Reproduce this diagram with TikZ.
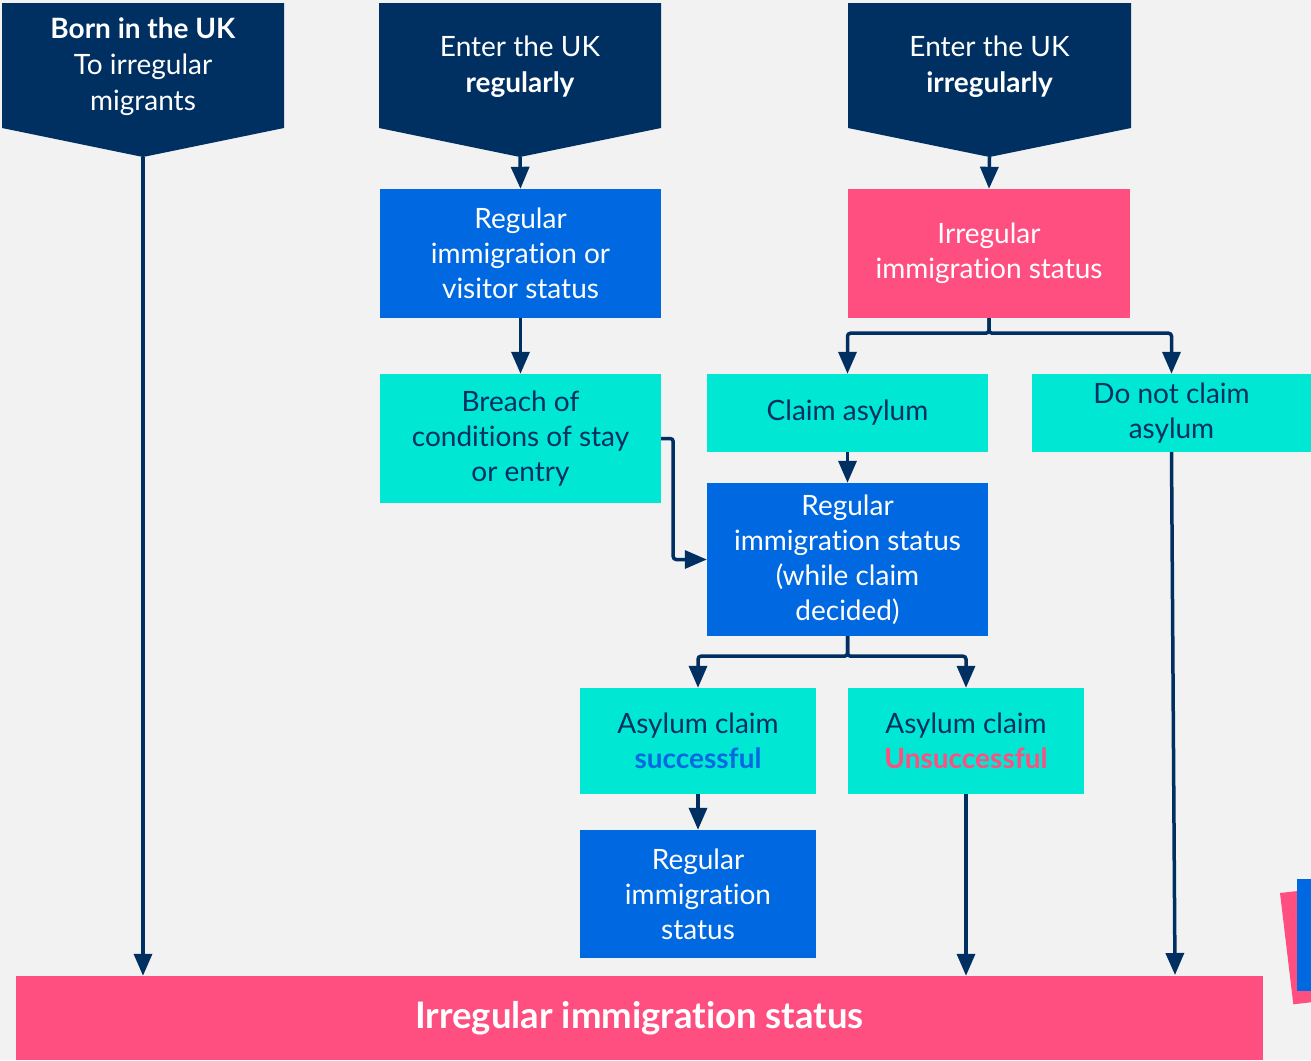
\documentclass[tikz,border=0pt]{standalone}
\usepackage{fontspec}
\setmainfont{Lato}[Ligatures={NoCommon,NoRare}]
\usetikzlibrary{arrows.meta}
\definecolor{navy}{HTML}{003062}
\definecolor{bblue}{HTML}{0068E0}
\definecolor{cteal}{HTML}{00E8D4}
\definecolor{cpink}{HTML}{FF4F80}
\definecolor{bgc}{HTML}{F2F2F2}
\begin{document}
\begin{tikzpicture}[x=1pt,y=-1pt,
  box/.style={inner sep=0pt, align=center, font=\fontsize{28}{35}\selectfont},
  bluebox/.style={box, fill=bblue, text=white},
  tealbox/.style={box, fill=cteal, text=navy},
  pinkbox/.style={box, fill=cpink, text=white},
  head/.style={inner sep=0pt, align=center, text=white, font=\fontsize{28}{36}\selectfont},
  arr/.style={draw=navy, line width=3.5pt, -{Triangle[length=22pt,width=18pt]}},
  fork/.style={arr, rounded corners=3pt}]
\fill[bgc] (0,0) rectangle (1311,1060);
\useasboundingbox (0,0) rectangle (1311,1060);

% header pentagons
\fill[navy] (2,3) -- (284,3) -- (284,128) -- (143,157) -- (2,128) -- cycle;
\fill[navy] (379,3) -- (661,3) -- (661,128) -- (520,157) -- (379,128) -- cycle;
\fill[navy] (848,3) -- (1131,3) -- (1131,128) -- (989.5,157) -- (848,128) -- cycle;
\node[head] (h1) at (143,67) {\textbf{Born in the UK}\\To irregular\\migrants};
\node[head] (h2) at (520,67) {Enter the UK\\\textbf{regularly}};
\node[head] (h3) at (989.5,67) {Enter the UK\\\textbf{irregularly}};
\coordinate (p1) at (143,157);
\coordinate (p2) at (520,157);
\coordinate (p3) at (989.5,157);

% boxes
\node[bluebox, minimum width=281pt, minimum height=129pt] (reg) at (520.5,253.5) {Regular\\immigration or\\visitor status};
\node[tealbox, minimum width=281pt, minimum height=129pt] (breach) at (520.5,438.5) {Breach of\\conditions of stay\\or entry};
\node[pinkbox, minimum width=282pt, minimum height=129pt] (irr) at (989,253.5) {Irregular\\immigration status};
\node[tealbox, minimum width=281pt, minimum height=78pt] (claim) at (847.5,413) {Claim asylum};
\node[tealbox, minimum width=279pt, minimum height=78pt] (noclaim) at (1171.5,413) {Do not claim\\asylum};
\node[bluebox, minimum width=281pt, minimum height=153pt] (regc) at (847.5,559.5) {Regular\\immigration status\\(while claim\\decided)};
\node[tealbox, minimum width=236pt, minimum height=106pt] (succ) at (698,741) {Asylum claim\\\textcolor{bblue}{\textbf{successful}}};
\node[tealbox, minimum width=236pt, minimum height=106pt] (unsucc) at (966,741) {Asylum claim\\\textcolor{cpink}{\textbf{Unsuccessful}}};
\node[bluebox, minimum width=236pt, minimum height=128pt] (regs) at (698,894) {Regular\\immigration\\status};
\node[pinkbox, minimum width=1247pt, minimum height=84pt, font=\fontsize{36.5}{42}\selectfont\bfseries] (bar) at (639.5,1018) {Irregular immigration status};

% decoration
\fill[cpink] (1280,893) -- (1311,889.5) -- (1311,1002.3) -- (1293.3,1004.3) -- cycle;
\fill[bblue] (1297,879) rectangle (1311,991);

% connectors
\draw[arr] (p1) -- (p1 |- bar.north);
\draw[arr] (p2) -- (reg.north);
\draw[arr] (reg.south) -- (breach.north);
\draw[arr] (p3) -- (irr.north);
\draw[fork] (irr.south) -- ++(0,15) -| (claim.north);
\draw[fork] (irr.south) -- ++(0,15) -| (noclaim.north);
\draw[arr] (claim.south) -- (regc.north);
\draw[fork] (breach.east) -- ++(12,0) |- (regc.west);
\draw[fork] (regc.south) -- ++(0,20) -| (succ.north);
\draw[fork] (regc.south) -- ++(0,20) -| (unsucc.north);
\draw[arr] (succ.south) -- (regs.north);
\draw[arr] (unsucc.south) -- (unsucc.south |- bar.north);
\coordinate (nce) at (1175,975);
\draw[arr] (noclaim.south) -- (nce);
\end{tikzpicture}
\end{document}
